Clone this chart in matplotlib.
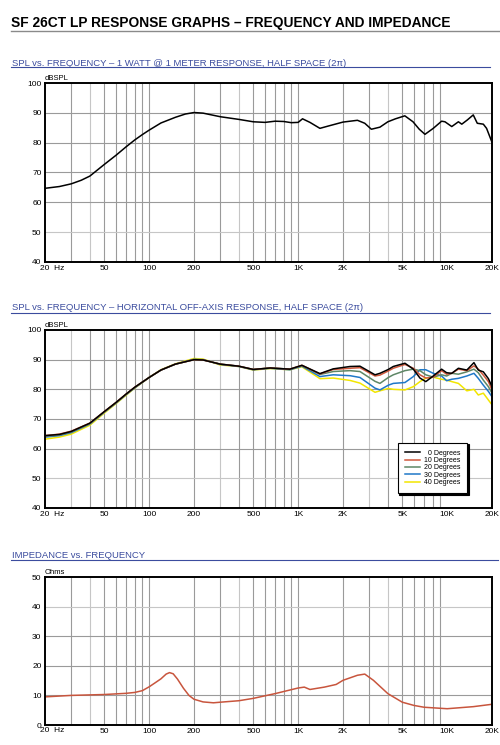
import numpy as np
import matplotlib.pyplot as plt
from matplotlib.lines import Line2D
from matplotlib.ticker import NullLocator
from matplotlib import transforms

plt.rcParams['font.family'] = ['Liberation Sans', 'DejaVu Sans']

# --- on-axis response, 1 W @ 1 m ---
freq_on = [20, 25, 30, 35, 40, 50, 60, 70, 80, 90, 100, 120, 150, 175, 200, 230,
           300, 400, 500, 600, 700, 800, 900, 1000, 1070, 1200, 1400, 1600, 2000,
           2500, 2800, 3100, 3540, 4000, 4500, 5200, 5900, 6500, 7100, 8070, 9180,
           9670, 10740, 11900, 12540, 13650, 14970, 15930, 17490, 18390, 19900]
spl_on = [64.7, 65.3, 66.2, 67.4, 68.8, 72.7, 75.8, 78.6, 80.9, 82.7, 84.2, 86.6,
          88.5, 89.6, 90.1, 89.9, 88.7, 87.8, 87.0, 86.8, 87.2, 87.1, 86.7, 86.8,
          88.0, 86.8, 84.8, 85.6, 86.9, 87.5, 86.5, 84.5, 85.2, 87.0, 88.0, 89.0,
          87.0, 84.5, 82.8, 84.8, 87.2, 87.0, 85.4, 87.0, 86.2, 87.6, 89.3, 86.5,
          86.2, 84.8, 80.4]

# --- horizontal off-axis response ---
freq_off = [20, 25, 30, 40, 50, 60, 70, 80, 100, 120, 150, 200, 230, 300, 400, 500,
            650, 880, 1060, 1400, 1720, 2230, 2600, 3280, 3540, 4030, 4350, 5210,
            5930, 6570, 7190, 8070, 9180, 9920, 10740, 11900, 13560, 15130, 16180,
            17490, 18920, 20000]
spl_0deg = [64.4, 64.8, 65.8, 68.6, 72.5, 75.6, 78.4, 80.7, 84.0, 86.5, 88.5, 90.0,
            89.9, 88.5, 87.8, 86.7, 87.2, 86.8, 88.1, 85.3, 86.9, 87.7, 87.8, 84.9,
            85.4, 86.7, 87.7, 88.8, 86.8, 83.8, 82.6, 84.5, 86.8, 85.6, 85.4, 87.1,
            86.5, 89.0, 86.5, 85.9, 83.6, 80.9]
spl_10deg = [64.4, 64.9, 65.9, 68.6, 72.5, 75.6, 78.4, 80.7, 84.0, 86.5, 88.5, 90.0,
             89.9, 88.5, 87.8, 86.7, 87.2, 86.8, 88.1, 85.2, 86.7, 87.1, 87.3, 84.5,
             84.8, 86.2, 87.1, 88.4, 87.1, 84.9, 83.8, 84.1, 86.3, 85.1, 85.4, 86.8,
             86.3, 87.9, 86.8, 84.8, 82.6, 79.8]
spl_20deg = [64.1, 64.6, 65.6, 68.5, 72.4, 75.5, 78.3, 80.6, 84.0, 86.5, 88.5, 90.0,
             89.9, 88.5, 87.8, 86.7, 87.2, 86.8, 88.0, 85.0, 86.0, 86.3, 86.0, 82.7,
             82.0, 84.0, 84.9, 86.3, 86.8, 86.3, 84.9, 84.1, 84.9, 84.5, 85.4, 85.1,
             85.9, 86.8, 85.6, 83.1, 80.9, 78.7]
spl_30deg = [63.9, 64.4, 65.4, 68.3, 72.3, 75.4, 78.2, 80.5, 84.0, 86.5, 88.5, 90.1,
             90.0, 88.4, 87.7, 86.6, 87.1, 86.6, 87.8, 84.3, 84.9, 84.6, 84.0, 80.4,
             79.8, 81.4, 82.0, 82.3, 84.3, 86.6, 86.6, 85.4, 84.5, 82.9, 83.4, 83.7,
             84.5, 85.4, 83.7, 81.4, 79.3, 77.5]
spl_40deg = [63.2, 63.9, 64.9, 67.9, 72.0, 75.2, 78.0, 80.4, 84.0, 86.6, 88.6, 90.4,
             90.2, 88.2, 87.7, 86.5, 87.0, 86.6, 87.6, 83.6, 83.8, 83.0, 82.1, 79.0,
             79.5, 80.3, 80.0, 79.8, 80.9, 82.6, 83.8, 84.1, 83.4, 83.1, 82.6, 82.0,
             79.5, 80.0, 78.1, 78.7, 76.4, 74.8]
off_labels = ['  0 Degrees', '10 Degrees', '20 Degrees', '30 Degrees', '40 Degrees']
off_colors = ['#000000', '#d0583c', '#5e8766', '#1f78c8', '#f2e600']

# --- impedance ---
freq_imp = [20, 30, 50, 70, 80, 90, 100, 110, 120, 130, 137, 145, 155, 170, 185,
            200, 230, 270, 300, 400, 500, 700, 1000, 1100, 1200, 1500, 1800, 2000,
            2500, 2800, 3200, 4000, 5000, 6000, 7000, 10000, 15000, 20000]
imp_ohms = [9.5, 10.0, 10.3, 10.7, 11.0, 11.6, 12.9, 14.3, 15.6, 17.2, 17.7, 17.3,
            15.5, 12.4, 10.0, 8.7, 7.8, 7.5, 7.7, 8.2, 9.0, 10.6, 12.5, 12.8, 12.0,
            12.8, 13.7, 15.1, 16.8, 17.2, 15.1, 10.6, 7.7, 6.6, 6.0, 5.5, 6.2, 7.0]

xticks = [50, 100, 200, 500, 1000, 2000, 5000, 10000, 20000]
xticklabels = ['50', '100', '200', '500', '1K', '2K', '5K', '10K', '20K']
grid_freqs = [m * 10 ** e for e in (1, 2, 3) for m in range(1, 10)
              if 20 < m * 10 ** e < 20000]

BLUE = '#3b4c9e'
GRID = '#9a9a9a'
LIGHT = '#c6c6c6'

fig = plt.figure(figsize=(5, 7.45), dpi=100)
W, H = 500.0, 745.0


def px_axes(x0, y0, x1, y1):
    return fig.add_axes([x0 / W, 1 - y1 / H, (x1 - x0) / W, (y1 - y0) / H])


def setup(ax, ymin, ymax, step, unit, light_x=(), light_y=()):
    ax.set_xscale('log')
    ax.set_xlim(20, 20000)
    ax.set_ylim(ymin, ymax)
    for f in grid_freqs:
        ax.axvline(f, color=LIGHT if f in light_x else GRID, lw=0.8, zorder=0)
    for v in range(ymin + step, ymax, step):
        ax.axhline(v, color=LIGHT if v in light_y else GRID, lw=0.8, zorder=0)
    ax.set_xticks(xticks)
    ax.set_xticklabels(xticklabels)
    ax.xaxis.set_minor_locator(NullLocator())
    ax.set_yticks(range(ymin, ymax + 1, step))
    ax.tick_params(length=0, labelsize=6, pad=2.5)
    for s in ax.spines.values():
        s.set_linewidth(1.4)
    ax.text(0, 1.005, unit, transform=ax.transAxes, fontsize=5.5, va='bottom')
    tr = transforms.offset_copy(ax.get_xaxis_transform(), fig=fig, x=-5, y=-2.5,
                                units='dots')
    ax.text(20, 0, '20  Hz', transform=tr, fontsize=6, ha='left', va='top')


def section(text, y_base, y_line, x_end):
    fig.text(12 / W, 1 - y_base / H, text, color=BLUE, fontsize=6.8, va='baseline')
    fig.add_artist(Line2D([11 / W, x_end / W], [1 - y_line / H] * 2, color=BLUE,
                          lw=0.8, transform=fig.transFigure))


# title
fig.text(11 / W, 1 - 27 / H, 'SF 26CT LP RESPONSE GRAPHS \u2013 FREQUENCY AND IMPEDANCE',
         fontsize=9.9, fontweight='bold', va='baseline')
fig.add_artist(Line2D([11 / W, 1], [1 - 30.5 / H] * 2, color='#8a8a8a', lw=1.0,
                      transform=fig.transFigure))

# on-axis
section('SPL vs. FREQUENCY \u2013 1 WATT @ 1 METER RESPONSE, HALF SPACE (2\u03c0)',
        65.5, 67, 490)
ax1 = px_axes(45, 83, 492, 262)
setup(ax1, 40, 100, 10, 'dBSPL', light_x=(40, 400, 4000), light_y=(50,))
ax1.plot(freq_on, spl_on, color='black', lw=1.1)

# off-axis
section('SPL vs. FREQUENCY \u2013 HORIZONTAL OFF-AXIS RESPONSE, HALF SPACE (2\u03c0)',
        310.5, 312.5, 490)
ax2 = px_axes(45, 330, 492, 508)
setup(ax2, 40, 100, 10, 'dBSPL', light_x=(30, 300, 3000), light_y=(50,))
for vals, lab, col in reversed(list(zip([spl_0deg, spl_10deg, spl_20deg, spl_30deg,
                                         spl_40deg], off_labels, off_colors))):
    ax2.plot(freq_off, vals, color=col, lw=1.1, label=lab)
h, l = ax2.get_legend_handles_labels()
leg = ax2.legend(h[::-1], l[::-1], loc='lower left', bbox_to_anchor=(0.781, 0.065),
                 fontsize=5, handlelength=2.2, handletextpad=0.6, labelspacing=0.05,
                 borderpad=1.0, fancybox=False, framealpha=1, edgecolor='black',
                 shadow={'color': 'black', 'alpha': 1, 'ox': 1.2, 'oy': -1.2})
leg.get_frame().set_linewidth(0.8)

# impedance
section('IMPEDANCE vs. FREQUENCY', 558, 560, 498)
ax3 = px_axes(45, 577, 492, 725)
setup(ax3, 0, 50, 10, 'Ohms', light_x=(40, 400, 4000), light_y=(40,))
ax3.plot(freq_imp, imp_ohms, color='#c8553d', lw=1.1)

fig.savefig('out.png', dpi=100)
